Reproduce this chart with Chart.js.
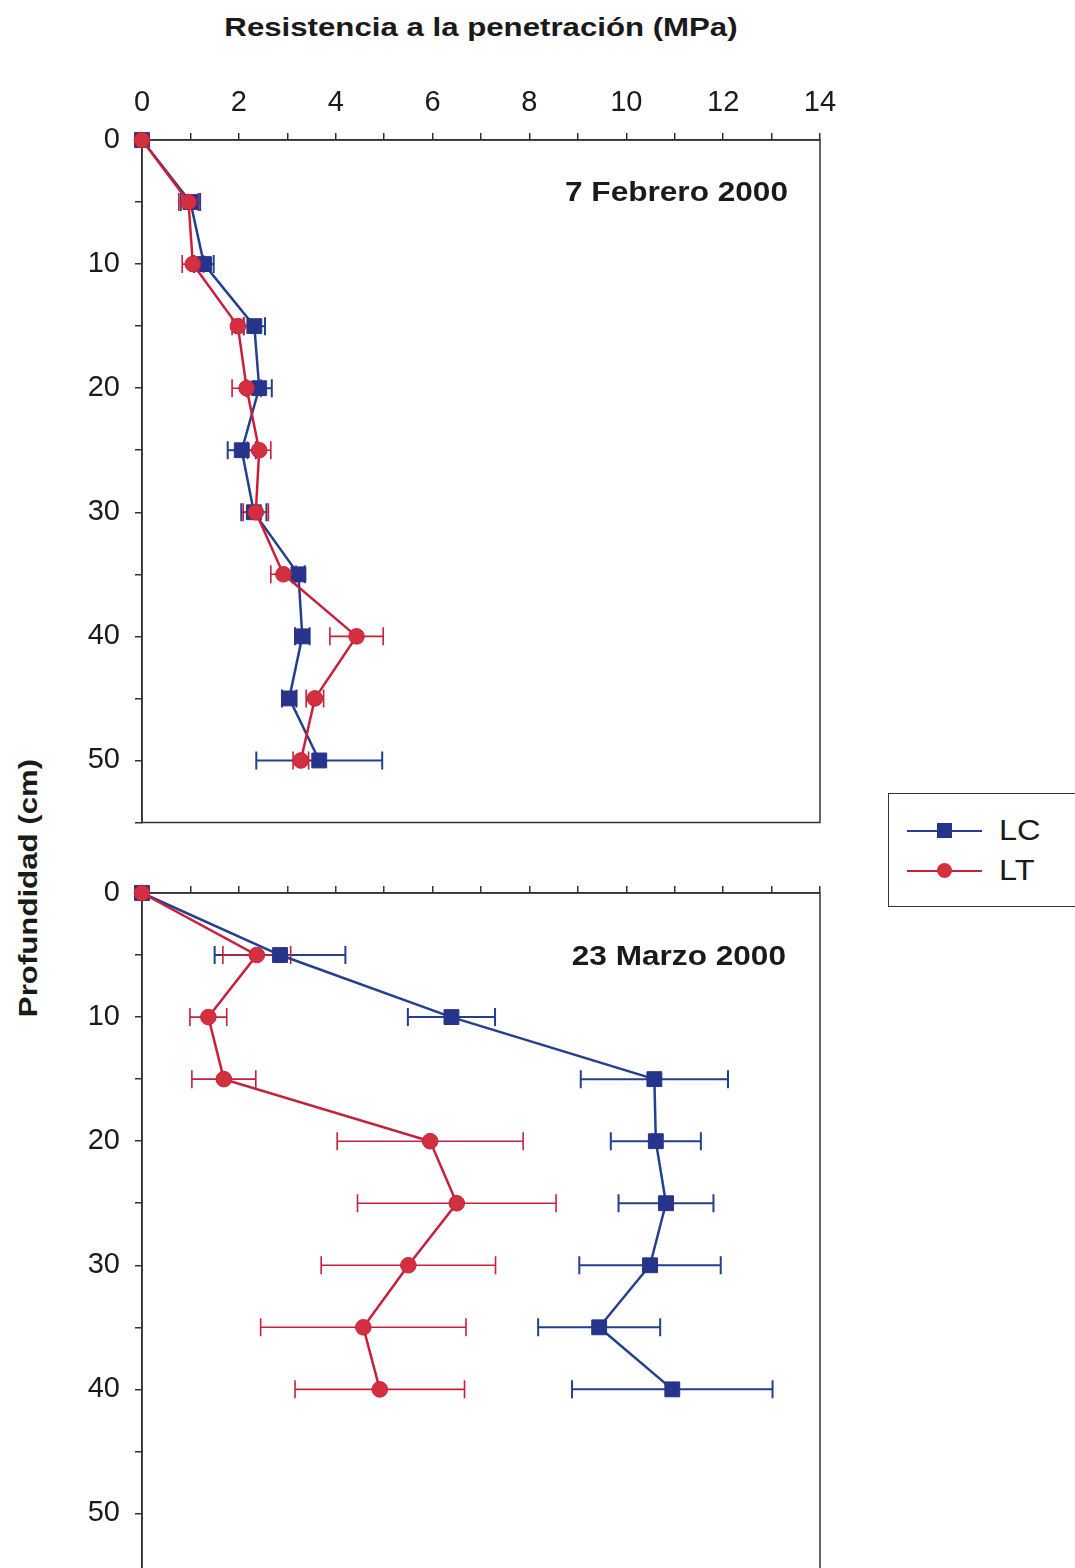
<!DOCTYPE html>
<html>
<head>
<meta charset="utf-8">
<script src="https://cdn.jsdelivr.net/npm/chart.js@4"></script>
<style>
  body { margin: 0; width: 1075px; height: 1568px; overflow: hidden; background: #fff; font-family: "Liberation Sans", Arial, sans-serif; color: #1a1a1a; }
  canvas { position: absolute; left: 0; }
  .txt { position: absolute; font-weight: bold; white-space: nowrap; }
  #legend { position: absolute; left: 888px; top: 793px; width: 200px; height: 112px; border: 1.5px solid #333; }
  .item { position: absolute; left: 18px; width: 180px; height: 40px; }
  .item .ln { position: absolute; left: 0; top: 19px; width: 75px; height: 2px; }
  .item .mk { position: absolute; top: 12px; left: 30px; width: 15px; height: 15px; }
  .item span { position: absolute; left: 92px; top: 1px; font-size: 29px; line-height: 36px; transform: scaleX(1.12); transform-origin: left center; }
</style>
</head>
<body>
<div class="txt" style="left:0;width:962px;top:12px;text-align:center;font-size:26px;line-height:30px;transform:scaleX(1.2);transform-origin:481px 50%;">Resistencia a la penetración (MPa)</div>
<div class="txt" style="left:-172px;width:400px;top:873px;text-align:center;font-size:26px;line-height:30px;transform:rotate(-90deg) scaleX(1.2);">Profundidad (cm)</div>

<canvas id="chartFeb" width="860" height="834" style="top:0"></canvas>
<canvas id="chartMar" width="860" height="734" style="top:853px"></canvas>

<div class="txt" style="left:500px;width:288px;top:177px;text-align:right;font-size:27px;line-height:30px;transform:scaleX(1.17);transform-origin:right center;">7 Febrero 2000</div>
<div class="txt" style="left:500px;width:286px;top:941px;text-align:right;font-size:27px;line-height:30px;transform:scaleX(1.17);transform-origin:right center;">23 Marzo 2000</div>

<div id="legend">
  <div class="item" style="top:17px"><div class="ln" style="background:#23408f"></div><div class="mk" style="background:#27348b"></div><span>LC</span></div>
  <div class="item" style="top:57px"><div class="ln" style="background:#c8203c"></div><div class="mk" style="background:#d3303f;border-radius:50%"></div><span>LT</span></div>
</div>

<script>
// depth (cm) and penetration resistance (MPa)
const depthFeb = [0, 5, 10, 15, 20, 25, 30, 35, 40, 45, 50];
const lcFeb = [0, 1.0, 1.28, 2.32, 2.42, 2.06, 2.31, 3.23, 3.31, 3.04, 3.66];
const lcFebErr = [0, 0.2, 0.2, 0.22, 0.26, 0.29, 0.26, 0.13, 0.15, 0.15, 1.3];
const ltFeb = [0, 0.96, 1.05, 1.98, 2.16, 2.42, 2.35, 2.92, 4.43, 3.57, 3.28];
const ltFebErr = [0, 0.2, 0.22, 0.12, 0.3, 0.24, 0.26, 0.26, 0.55, 0.18, 0.16];

const depthMar = [0, 5, 10, 15, 20, 25, 30, 35, 40];
const lcMar = [0, 2.85, 6.39, 10.58, 10.61, 10.82, 10.49, 9.44, 10.95];
const lcMarErr = [0, 1.35, 0.9, 1.52, 0.93, 0.98, 1.46, 1.26, 2.07];
const ltMar = [0, 2.37, 1.37, 1.69, 5.95, 6.5, 5.5, 4.57, 4.91];
const ltMarErr = [0, 0.7, 0.38, 0.66, 1.92, 2.05, 1.8, 2.12, 1.75];

const blue = '#23408f';
const red = '#c8203c';

Chart.defaults.font.family = '"Liberation Sans", Arial, sans-serif';
Chart.defaults.color = '#1a1a1a';

// horizontal error bars + box around the plot area
const errorBars = {
  id: 'errorBars',
  beforeDatasetsDraw(chart) {
    const { ctx, chartArea: a, scales: { x, y } } = chart;
    ctx.save();
    ctx.strokeStyle = '#333';
    ctx.lineWidth = 1.5;
    ctx.strokeRect(a.left, a.top, a.right - a.left, a.bottom - a.top);
    chart.data.datasets.forEach(ds => {
      ctx.strokeStyle = ds.errorColor;
      ctx.lineWidth = ds.errorWidth;
      ds.data.forEach((p, i) => {
        const e = ds.errors[i];
        if (!e) return;
        const py = y.getPixelForValue(p.y);
        const x0 = x.getPixelForValue(p.x - e);
        const x1 = x.getPixelForValue(p.x + e);
        ctx.beginPath();
        ctx.moveTo(x0, py); ctx.lineTo(x1, py);
        ctx.moveTo(x0, py - 9); ctx.lineTo(x0, py + 9);
        ctx.moveTo(x1, py - 9); ctx.lineTo(x1, py + 9);
        ctx.stroke();
      });
    });
    ctx.restore();
  }
};

function makeSeries(label, depths, values, errors, color, marker) {
  return {
    label: label,
    data: depths.map((d, i) => ({ x: values[i], y: d })),
    errors: errors,
    errorColor: color,
    errorWidth: label === 'LC' ? 2 : 1.6,
    showLine: true,
    borderColor: color,
    borderWidth: 2.5,
    backgroundColor: marker === 'rect' ? '#27348b' : '#d3303f',
    pointBorderColor: marker === 'rect' ? '#27348b' : '#c8203c',
    pointBorderWidth: 1,
    pointStyle: marker,
    pointRadius: marker === 'rect' ? 10.5 : 7.8,
    order: label === 'LC' ? 2 : 1,
    clip: false
  };
}

function createProfileChart(id, datasets, showXLabels, xHeight) {
  const ctx = document.getElementById(id).getContext('2d');
  return new Chart(ctx, {
    type: 'scatter',
    data: { datasets: datasets },
    options: {
      responsive: false,
      animation: false,
      layout: { padding: { left: 0, right: 40, top: 0, bottom: 4 } },
      plugins: { legend: { display: false }, tooltip: { enabled: false } },
      scales: {
        x: {
          position: 'top',
          min: 0, max: 14,
          afterFit: s => { s.height = xHeight; s.paddingLeft = 0; s.paddingRight = 0; },
          border: { color: '#333', width: 1.5 },
          grid: { drawOnChartArea: false, drawTicks: true, tickLength: 7, color: '#333', lineWidth: 1.5 },
          ticks: {
            stepSize: 1, autoSkip: false, maxRotation: 0, padding: 13,
            font: { size: 29 },
            callback: v => (showXLabels && v % 2 === 0) ? v : ''
          }
        },
        y: {
          reverse: true,
          min: 0, max: 55,
          afterFit: s => { s.width = 142; s.paddingTop = 0; s.paddingBottom = 0; },
          border: { color: '#333', width: 1.5 },
          grid: { drawOnChartArea: false, drawTicks: true, tickLength: 7, color: '#333', lineWidth: 1.5 },
          ticks: {
            stepSize: 5, autoSkip: false, padding: 15,
            font: { size: 29 },
            callback: v => v % 10 === 0 ? v : ''
          }
        }
      }
    },
    plugins: [errorBars]
  });
}

createProfileChart('chartFeb', [
  makeSeries('LC', depthFeb, lcFeb, lcFebErr, blue, 'rect'),
  makeSeries('LT', depthFeb, ltFeb, ltFebErr, red, 'circle')
], true, 140);

createProfileChart('chartMar', [
  makeSeries('LC', depthMar, lcMar, lcMarErr, blue, 'rect'),
  makeSeries('LT', depthMar, ltMar, ltMarErr, red, 'circle')
], false, 40);
</script>
</body>
</html>
